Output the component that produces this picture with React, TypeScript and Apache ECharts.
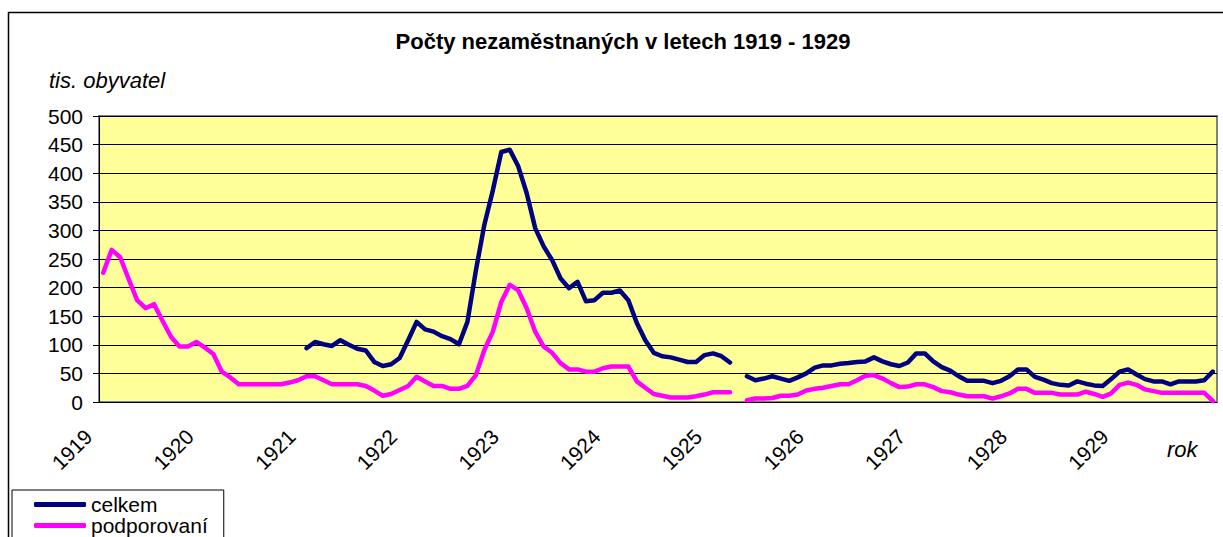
import React, { useEffect, useRef } from "react";
import * as echarts from "echarts";

const years = [1919, 1920, 1921, 1922, 1923, 1924, 1925, 1926, 1927, 1928, 1929];
const months = ["01", "02", "03", "04", "05", "06", "07", "08", "09", "10", "11", "12"];
const categories = years.flatMap((y) => months.map((m) => `${y}-${m}`));

const yTicks = [0, 50, 100, 150, 200, 250, 300, 350, 400, 450, 500];

const seriesNames = ["celkem", "podporovaní"];

const celkem = [
  null, null, null, null, null, null, null, null, null, null, null, null,
  null, null, null, null, null, null, null, null, null, null, null, null,
  94, 105, 101, 98, 108, 100, 93, 90, 70, 63, 66, 77,
  108, 140, 127, 123, 115, 110, 101, 140, 230, 310, 370, 437,
  441, 412, 365, 304, 272, 248, 216, 199, 210, 176, 178, 191,
  191, 195, 178, 138, 108, 86, 80, 78, 74, 70, 70, 82,
  85, 80, 69, null, 45, 38, 41, 45, 41, 37, 43, 50,
  60, 64, 64, 67, 68, 70, 71, 78, 71, 66, 63, 69,
  85, 85, 71, 61, 55, 45, 37, 37, 37, 33, 37, 45,
  57, 57, 44, 39, 33, 30, 29, 36, 32, 29, 28, 40,
  53, 57, 48, 40, 36, 36, 31, 36, 36, 36, 38, 53,
];

const podporovani = [
  226, 266, 253, 215, 178, 164, 171, 142, 114, 97, 97, 105,
  95, 84, 53, 43, 31, 31, 31, 31, 31, 31, 34, 38,
  45, 45, 38, 31, 31, 31, 31, 28, 20, 11, 14, 21,
  28, 44, 36, 28, 28, 23, 23, 28, 47, 91, 123, 175,
  205, 195, 164, 123, 97, 86, 68, 57, 57, 53, 53, 59,
  62, 62, 62, 36, 25, 14, 11, 8, 8, 8, 10, 13,
  17, 17, 17, null, 3, 6, 6, 7, 11, 11, 13, 20,
  23, 25, 28, 31, 31, 38, 46, 47, 41, 33, 26, 27,
  31, 31, 26, 19, 17, 13, 10, 10, 10, 6, 10, 15,
  23, 23, 16, 16, 16, 13, 13, 13, 18, 14, 9, 15,
  30, 34, 30, 22, 19, 16, 16, 16, 16, 16, 16, 2,
];

const FONT = '"Liberation Sans", Arial, sans-serif';

export default function App() {
  const ref = useRef<HTMLDivElement>(null);

  useEffect(() => {
    if (!ref.current) return;
    const chart = echarts.init(ref.current, null, { renderer: "svg" });
    chart.setOption({
      animation: false,
      backgroundColor: "#ffffff",
      textStyle: { fontFamily: FONT },
      grid: {
        left: 99,
        top: 116,
        width: 1118,
        height: 286,
        show: true,
        backgroundColor: "#FFFF99",
        borderColor: "#808080",
        borderWidth: 2,
      },
      legend: {
        orient: "vertical",
        left: 12,
        top: 490,
        height: 80,
        padding: [4, 16, 30, 22],
        itemGap: 0,
        itemWidth: 52,
        itemHeight: 5,
        icon: "roundRect",
        borderColor: "#000",
        borderWidth: 1,
        backgroundColor: "#fff",
        textStyle: { fontSize: 21, color: "#000", fontFamily: FONT, lineHeight: 20 },
        data: seriesNames,
      },
      xAxis: {
        type: "category",
        data: categories,
        boundaryGap: true,
        axisLine: { show: true, lineStyle: { color: "#000", width: 1 } },
        axisTick: { show: false },
        splitLine: { show: false },
        axisLabel: {
          interval: 11,
          rotate: 45,
          margin: 16,
          padding: [0, 21, 0, 0],
          fontSize: 21,
          color: "#000",
          fontFamily: FONT,
          formatter: (v: string) => v.slice(0, 4),
        },
      },
      yAxis: {
        type: "value",
        min: yTicks[0],
        max: yTicks[yTicks.length - 1],
        interval: 50,
        axisLine: { show: true, lineStyle: { color: "#000", width: 1 } },
        axisTick: { show: true, length: 6, lineStyle: { color: "#000" } },
        splitLine: { show: true, lineStyle: { color: "#000", width: 1 } },
        axisLabel: { margin: 16, fontSize: 21, color: "#000", fontFamily: FONT },
      },
      series: [
        {
          name: seriesNames[0],
          type: "line",
          data: celkem,
          showSymbol: false,
          connectNulls: false,
          color: "#000080",
          lineStyle: { color: "#000080", width: 4.5, cap: "round", join: "round" },
          itemStyle: { color: "#000080" },
        },
        {
          name: seriesNames[1],
          type: "line",
          data: podporovani,
          showSymbol: false,
          connectNulls: false,
          color: "#FF00FF",
          lineStyle: { color: "#FF00FF", width: 4.5, cap: "round", join: "round" },
          itemStyle: { color: "#FF00FF" },
        },
      ],
      graphic: [
        {
          type: "rect",
          z: -10,
          silent: true,
          shape: { x: 8.5, y: 12.5, width: 1300, height: 700 },
          style: { fill: "none", stroke: "#000", lineWidth: 1.5 },
        },
        {
          type: "text",
          x: 623,
          y: 41,
          style: {
            text: "Počty nezaměstnaných v letech 1919 - 1929",
            font: `bold 22px ${FONT}`,
            fill: "#000",
            textAlign: "center",
            textVerticalAlign: "middle",
          },
        },
        {
          type: "text",
          x: 49,
          y: 80,
          style: {
            text: "tis. obyvatel",
            font: `italic 22px ${FONT}`,
            fill: "#000",
            textAlign: "left",
            textVerticalAlign: "middle",
          },
        },
        {
          type: "text",
          x: 1167,
          y: 449,
          style: {
            text: "rok",
            font: `italic 22px ${FONT}`,
            fill: "#000",
            textAlign: "left",
            textVerticalAlign: "middle",
          },
        },
      ],
    });
    return () => chart.dispose();
  }, []);

  return (
    <div
      ref={ref}
      style={{ position: "fixed", left: 0, top: 0, width: 1223, height: 537, background: "#fff" }}
    />
  );
}
